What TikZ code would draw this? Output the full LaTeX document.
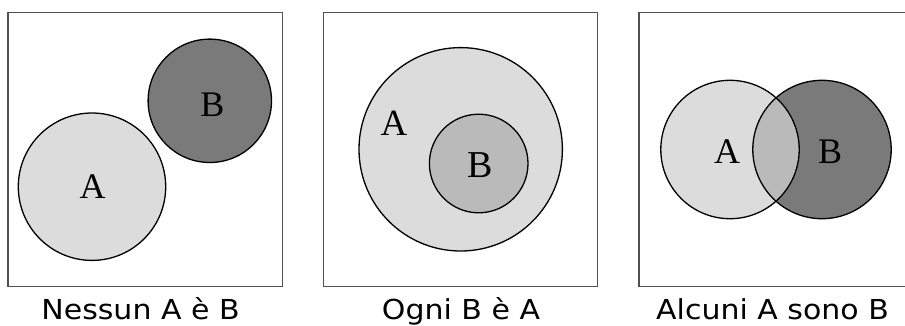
\documentclass[tikz,border=0pt]{standalone}
\usepackage{fontspec}
\setmainfont{Liberation Serif}
\newfontfamily\capfont{DejaVu Sans}
\definecolor{lightg}{HTML}{DCDCDC}
\definecolor{darkg}{HTML}{7A7A7A}
\definecolor{midg}{HTML}{BABABA}
\definecolor{boxg}{HTML}{505050}
\newcommand{\captxt}[1]{\scalebox{1.09}[1]{#1}}
\begin{document}
\begin{tikzpicture}[x=1pt,y=-1pt,
  panel/.style={draw=boxg,line width=1.1pt},
  venn/.style={circle,draw=black,line width=1.3pt,inner sep=0pt},
  letter/.style={font=\fontsize{36}{36}\selectfont,inner sep=0pt},
  caption/.style={font=\capfont\fontsize{27.5}{27.5}\selectfont,anchor=base,inner sep=0pt}]
\useasboundingbox (0,0) rectangle (905,325);
\clip (0,0) rectangle (905,325);
% panel 1
\draw[panel] (8,12.3) rectangle (282.7,286.7);
\node[venn,fill=lightg,minimum size=147.4pt] (a1) at (92,186.7) {};
\node[venn,fill=darkg,minimum size=123.4pt] (b1) at (209.8,100.8) {};
\node[letter] (la1) at (92.5,187) {A};
\node[letter] (lb1) at (212.5,105) {B};
\node[caption] (c1) at (140.5,319) {\captxt{Nessun A è B}};
% panel 2
\draw[panel] (323.3,12.3) rectangle (597.7,286.7);
\node[venn,fill=lightg,minimum size=203.4pt] (a2) at (460.7,149.3) {};
\node[venn,fill=midg,minimum size=98.6pt] (b2) at (478.7,163.5) {};
\node[letter,font=\fontsize{37}{37}\selectfont] (la2) at (394,123) {A};
\node[letter,font=\fontsize{38}{38}\selectfont] (lb2) at (480,165) {B};
\node[caption] (c2) at (461,319) {\captxt{Ogni B è A}};
% panel 3
\draw[panel] (639,12.3) rectangle (914,286.7);
\fill[lightg] (730,149.5) circle[radius=69.2];
\fill[darkg] (822,149.5) circle[radius=69.2];
\begin{scope}
  \clip (730,149.5) circle[radius=69.2];
  \fill[midg] (822,149.5) circle[radius=69.2];
\end{scope}
\node[venn,minimum size=138.4pt] (a3) at (730,149.5) {};
\node[venn,minimum size=138.4pt] (b3) at (822,149.5) {};
\node[letter] (la3) at (727,152) {A};
\node[letter] (lb3) at (830,152) {B};
\node[caption] (c3) at (772.5,319) {\captxt{Alcuni A sono B}};
\end{tikzpicture}
\end{document}
